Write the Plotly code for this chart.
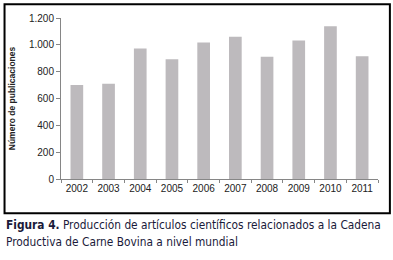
import plotly.graph_objects as go

years = ["2002", "2003", "2004", "2005", "2006", "2007", "2008", "2009", "2010", "2011"]
publicaciones = [700, 710, 973, 893, 1017, 1061, 912, 1032, 1139, 915]
y_ticks = [0, 200, 400, 600, 800, 1000, 1200]

W, H = 393, 260
L, R, T, B = 58, 15, 15, 81
pw, ph = W - L - R, H - T - B

def px(x):
    return (x - L) / pw

def py(y):
    return (H - B - y) / ph

cap_font = dict(family="DejaVu Sans Condensed", size=11.8, color="#1a1a3a")

fig = go.Figure()
fig.add_trace(go.Bar(x=years, y=publicaciones, marker=dict(color="#bdbabd", line=dict(width=0))))

fig.update_layout(
    width=W, height=H,
    margin=dict(l=L, r=R, t=T, b=B),
    paper_bgcolor="white", plot_bgcolor="white",
    separators=",.",
    bargap=0.6,
    showlegend=False,
    font=dict(family="Liberation Sans", size=10, color="#333333"),
    xaxis=dict(
        type="category", showgrid=False, zeroline=False,
        showline=True, linecolor="#868686", linewidth=1,
        ticks="outside", tickson="boundaries", ticklen=3, tickcolor="#868686",
        tickfont=dict(size=10, color="#222222"),
    ),
    yaxis=dict(
        range=[0, 1200], tickvals=y_ticks, tickformat=",.0f",
        showgrid=False, zeroline=False,
        showline=True, linecolor="#868686", linewidth=1,
        ticks="outside", ticklen=4, tickcolor="#868686",
        tickfont=dict(size=10, color="#222222"),
        title=dict(text="<b>Número de publicaciones</b>", font=dict(size=8.5, color="#222222"), standoff=11),
    ),
    shapes=[dict(type="rect", xref="paper", yref="paper",
                 x0=px(1), x1=px(390), y0=py(214), y1=py(1),
                 line=dict(color="black", width=2), fillcolor="rgba(0,0,0,0)")],
    annotations=[
        dict(xref="paper", yref="paper", x=px(0), y=py(226), xanchor="left", yanchor="middle",
             showarrow=False, align="left",
             text="<b>Figura 4.</b> Producción de artículos científicos relacionados a la Cadena",
             font=cap_font),
        dict(xref="paper", yref="paper", x=px(0), y=py(243), xanchor="left", yanchor="middle",
             showarrow=False, align="left",
             text="Productiva de Carne Bovina a nivel mundial",
             font=cap_font),
    ],
)

fig.write_html("out.html", config={"displayModeBar": False},
               post_script="document.body.style.margin='0';document.body.style.overflow='hidden';")
